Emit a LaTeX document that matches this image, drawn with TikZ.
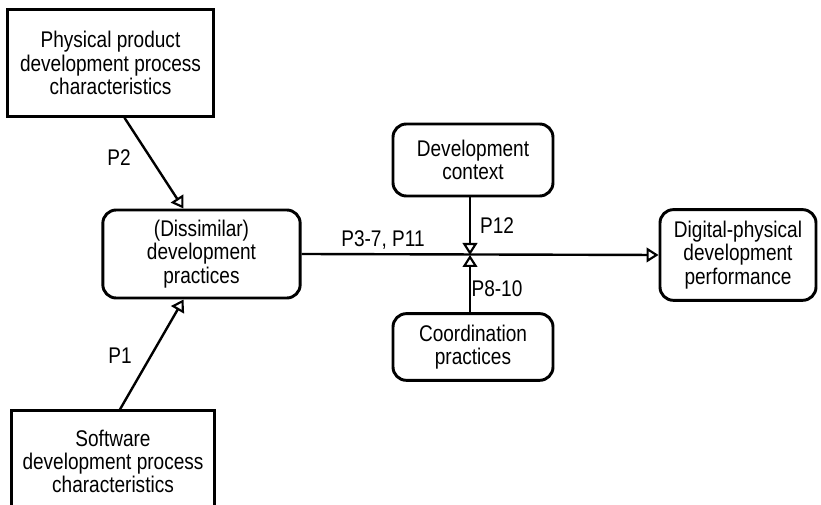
\documentclass[tikz,border=0pt]{standalone}
\usepackage{fontspec}
\setmainfont[FakeStretch=0.84]{Liberation Sans}
\usetikzlibrary{arrows.meta,calc}
\begin{document}
\begin{tikzpicture}[x=0.75pt,y=-0.75pt,
  txt/.style={font=\fontsize{17}{17.5}\selectfont},
  box/.style={draw,line width=2.2pt,align=center,inner sep=0pt,txt},
  sqbox/.style={box},
  rbox/.style={box,rounded corners=10pt},
  link/.style={line width=1.8pt,-{Triangle[open,width=11pt,length=9pt,line width=1.6pt]}},
  lbl/.style={txt,inner sep=0pt}]
\useasboundingbox (0,0) rectangle (821,505);

% boxes
\node[sqbox,minimum width=154pt,minimum height=80pt] (phys) at (110.5,63)
  {Physical product\\development process\\characteristics};
\node[rbox,minimum width=148pt,minimum height=66pt] (diss) at (201.5,254)
  {(Dissimilar)\\development\\practices};
\node[sqbox,minimum width=152pt,minimum height=76pt] (soft) at (113,461.5)
  {Software\\development process\\characteristics};
\node[rbox,minimum width=120pt,minimum height=54pt] (ctx) at (473,160)
  {Development\\context};
\node[rbox,minimum width=120pt,minimum height=50pt] (coord) at (473,347)
  {Coordination\\practices};
\node[rbox,minimum width=117pt,minimum height=68pt] (perf) at (738,255)
  {Digital-physical\\development\\performance};

% moderating links meet the main path here
\coordinate (junc) at (470,255);

% connectors
\draw[link] ($(phys.south)+(14,0)$) -- ($(diss.north)+(-18,0)$);
\draw[link] ($(soft.north)+(7,0)$) -- ($(diss.south)+(-18,0)$);
\draw[link] (diss.east) -- (perf.west);
\draw[link] (ctx.south -| junc) -- (junc);
\draw[link] (coord.north -| junc) -- (junc);

% proposition labels
\node[lbl] (l2) at (119,158) {P2};
\node[lbl] (l1) at (120,356) {P1};
\node[lbl] (l37) at (383,240) {P3-7, P11};
\node[lbl] (l12) at (497,226) {P12};
\node[lbl] (l810) at (497,289) {P8-10};
\end{tikzpicture}
\end{document}
